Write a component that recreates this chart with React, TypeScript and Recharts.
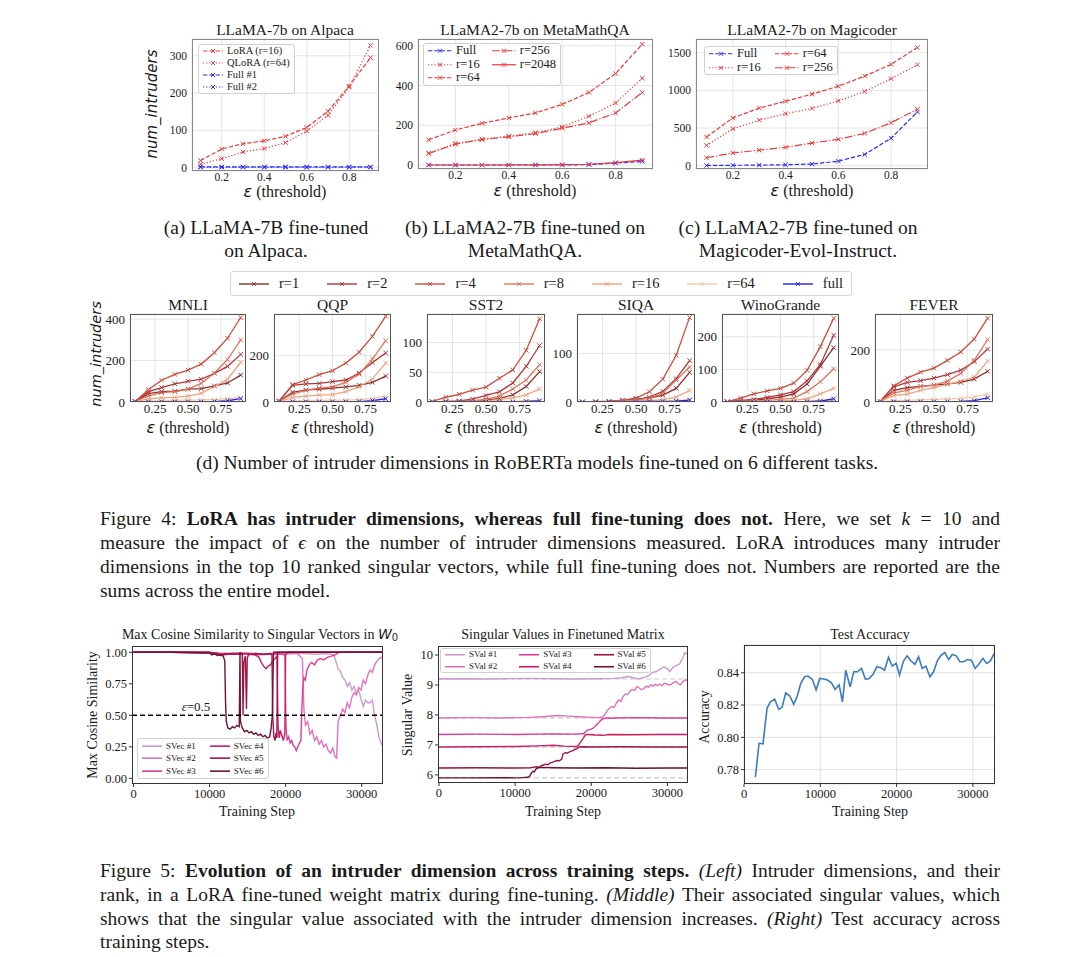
import React from "react";
import {
  CartesianGrid,
  Line,
  LineChart,
  ReferenceLine,
  XAxis,
  YAxis,
} from "recharts";

const SERIF = '"Liberation Serif", "Times New Roman", serif';
const SANS = '"DejaVu Sans", sans-serif';
const INK = "#1a1a1a";

// thresholds used by every num_intruders panel
const EPS = [0.1, 0.2, 0.3, 0.4, 0.5, 0.6, 0.7, 0.8, 0.9];

// (a) LLaMA-7b on Alpaca
const ALPACA_LORA = [19, 50, 64, 72, 84, 108, 151, 219, 295];
const ALPACA_QLORA = [9, 24, 42, 51, 67, 98, 140, 216, 328];
const ALPACA_FULL1 = [2, 2, 2, 2, 2, 2, 2, 2, 2];
const ALPACA_FULL2 = [1, 1, 1, 1, 1, 1, 1, 1, 1];

// (b) LLaMA2-7b on MetaMathQA
const MM_FULL = [0, 0, 0, 0, 0, 0, 2, 10, 18];
const MM_R16 = [60, 108, 130, 145, 163, 192, 245, 312, 437];
const MM_R64 = [127, 176, 210, 237, 262, 305, 365, 460, 608];
const MM_R256 = [58, 105, 128, 142, 158, 185, 212, 262, 365];
const MM_R2048 = [0, 0, 0, 1, 1, 2, 4, 12, 25];

// (c) LLaMA2-7b on Magicoder
const MC_FULL = [3, 5, 8, 12, 22, 60, 150, 365, 715];
const MC_R16 = [270, 490, 605, 690, 760, 860, 985, 1155, 1340];
const MC_R64 = [380, 635, 765, 855, 950, 1055, 1190, 1345, 1570];
const MC_R256 = [105, 170, 205, 245, 300, 350, 430, 570, 750];

// (d) RoBERTa, one row per rank: r=1, r=2, r=4, r=8, r=16, r=64, full
const RANK_LABELS = ["r=1", "r=2", "r=4", "r=8", "r=16", "r=64", "full"];
const RANK_COLORS = ["#8f2f2f", "#b3363a", "#d04b3c", "#e4735c", "#f0a27c", "#f6c6a6", "#2020f0"];

const MNLI = [
  [3, 40, 50, 52, 62, 65, 78, 92, 130],
  [3, 50, 70, 88, 100, 110, 138, 172, 230],
  [3, 60, 105, 133, 154, 183, 238, 308, 408],
  [2, 30, 45, 50, 62, 90, 140, 205, 300],
  [1, 15, 20, 22, 28, 42, 75, 110, 192],
  [0, 4, 6, 8, 9, 10, 12, 16, 22],
  [1, 1, 1, 1, 1, 1, 2, 6, 16],
];
const QQP = [
  [4, 42, 52, 55, 60, 65, 72, 85, 112],
  [5, 72, 78, 80, 88, 95, 125, 170, 212],
  [5, 75, 95, 118, 135, 168, 215, 283, 370],
  [3, 35, 50, 60, 65, 85, 120, 185, 265],
  [2, 20, 25, 30, 32, 45, 65, 100, 168],
  [1, 5, 6, 7, 8, 8, 10, 15, 25],
  [1, 1, 1, 1, 1, 1, 2, 6, 14],
];
const SST2 = [
  [0, 0, 1, 2, 3, 6, 12, 26, 51],
  [0, 1, 2, 5, 11, 17, 32, 60, 95],
  [1, 8, 13, 20, 25, 40, 54, 87, 140],
  [0, 0, 1, 2, 5, 10, 22, 37, 63],
  [0, 0, 0, 1, 2, 4, 7, 12, 22],
  [0, 0, 0, 0, 0, 1, 1, 2, 3],
  [0, 0, 0, 0, 0, 0, 0, 1, 2],
];
const SIQA = [
  [0, 0, 1, 3, 6, 8, 14, 28, 61],
  [0, 0, 1, 3, 5, 10, 22, 48, 85],
  [0, 1, 1, 4, 8, 21, 47, 96, 174],
  [0, 0, 1, 2, 4, 8, 18, 45, 72],
  [0, 0, 0, 1, 1, 3, 5, 10, 24],
  [0, 0, 0, 0, 1, 1, 2, 3, 5],
  [0, 0, 0, 0, 1, 1, 1, 2, 4],
];
const WINOGRANDE = [
  [1, 3, 5, 10, 15, 25, 55, 110, 167],
  [1, 5, 8, 14, 22, 32, 65, 115, 205],
  [1, 12, 25, 34, 42, 58, 97, 170, 257],
  [0, 2, 3, 5, 8, 12, 32, 62, 102],
  [0, 1, 2, 2, 3, 5, 10, 25, 42],
  [0, 0, 1, 1, 1, 1, 2, 3, 6],
  [0, 0, 0, 0, 0, 0, 1, 3, 10],
];
const FEVER = [
  [3, 45, 55, 60, 65, 70, 75, 88, 118],
  [3, 58, 75, 82, 92, 105, 122, 155, 203],
  [3, 62, 92, 115, 130, 160, 192, 242, 322],
  [3, 35, 45, 60, 65, 80, 110, 160, 240],
  [2, 25, 30, 45, 55, 68, 80, 95, 157],
  [1, 5, 6, 8, 10, 12, 14, 20, 30],
  [0, 1, 1, 1, 1, 1, 2, 5, 16],
];

// Figure 5: [training step, value]
const PURD = ["#cc9bcf", "#e272bb", "#e03e94", "#cc1f62", "#a01346", "#701230"];

const SVEC1: [number, number][] = [[0, 1], [3000, 1], [6000, 1], [9000, 1], [10500, 0.995], [12000, 0.99], [13500, 0.995], [15000, 0.99], [16500, 0.985], [18000, 0.99], [19500, 0.985], [21000, 0.99], [22500, 0.99], [24000, 0.985], [25500, 0.99], [26300, 0.98], [26600, 0.93], [26900, 0.87], [27200, 0.85], [27500, 0.8], [27800, 0.78], [28100, 0.73], [28400, 0.76], [28700, 0.7], [29000, 0.73], [29300, 0.68], [29600, 0.7], [29900, 0.63], [30200, 0.57], [30500, 0.62], [30800, 0.6], [31100, 0.6], [31400, 0.62], [31700, 0.5], [32000, 0.42], [32300, 0.32], [32600, 0.27], [32900, 0.26]];
const SVEC2: [number, number][] = [[0, 1], [5000, 1], [10000, 0.995], [12000, 0.99], [14000, 0.995], [16000, 0.99], [18000, 0.985], [20000, 0.99], [21500, 0.99], [22200, 0.95], [22400, 0.55], [22600, 0.42], [22900, 0.45], [23200, 0.35], [23500, 0.38], [23800, 0.3], [24100, 0.33], [24400, 0.27], [24700, 0.3], [25000, 0.25], [25300, 0.27], [25600, 0.22], [25900, 0.2], [26200, 0.24], [26500, 0.17], [26700, 0.16], [26900, 0.45], [27200, 0.5], [27500, 0.55], [27800, 0.52], [28100, 0.6], [28400, 0.56], [28700, 0.64], [29000, 0.68], [29300, 0.66], [29600, 0.72], [29900, 0.7], [30200, 0.78], [30500, 0.75], [30800, 0.82], [31100, 0.86], [31400, 0.84], [31700, 0.9], [32000, 0.93], [32300, 0.95], [32600, 0.96], [32900, 0.97]];
const SVEC3: [number, number][] = [[0, 1], [5000, 1], [10000, 0.995], [12000, 0.985], [14000, 0.99], [16000, 0.98], [18000, 0.985], [19000, 0.99], [19900, 0.98], [20050, 0.4], [20200, 0.3], [20400, 0.33], [20600, 0.28], [20800, 0.3], [21000, 0.26], [21200, 0.25], [21400, 0.22], [21600, 0.25], [21800, 0.28], [22000, 0.3], [22100, 0.5], [22250, 0.72], [22400, 0.8], [22600, 0.78], [22800, 0.86], [23100, 0.9], [23400, 0.92], [23800, 0.9], [24200, 0.94], [24600, 0.95], [25000, 0.94], [25500, 0.96], [26000, 0.97], [26500, 0.98], [27000, 1], [28000, 1], [32900, 1]];
const SVEC4: [number, number][] = [[0, 1], [5000, 1], [10000, 1], [11000, 0.99], [12000, 0.98], [13000, 0.99], [14000, 0.985], [15000, 0.99], [16000, 0.98], [16500, 0.96], [16800, 0.92], [17100, 0.89], [17400, 0.87], [17700, 0.89], [18000, 0.9], [18300, 0.93], [18600, 0.95], [18850, 0.97], [19000, 0.42], [19150, 0.32], [19300, 0.38], [19500, 0.34], [19700, 0.3], [19900, 0.36], [20000, 0.98], [20200, 1], [22000, 1], [26000, 1], [32900, 1]];
const SVEC5: [number, number][] = [[0, 1], [5000, 1], [10000, 1], [10500, 0.985], [11000, 0.99], [11500, 0.975], [12000, 0.99], [13000, 0.985], [14000, 0.99], [14300, 0.99], [14400, 0.5], [14500, 0.92], [14700, 0.97], [14850, 0.55], [14950, 0.95], [15100, 0.98], [16000, 0.99], [17000, 0.985], [18000, 0.99], [18200, 0.98], [18300, 0.5], [18450, 0.33], [18600, 0.3], [18750, 0.36], [18850, 0.32], [18950, 1], [19500, 1], [22000, 1], [26000, 1], [32900, 1]];
const SVEC6: [number, number][] = [[0, 1], [5000, 1], [10000, 0.995], [10300, 0.98], [10600, 0.99], [11000, 0.975], [11400, 0.98], [11800, 0.97], [12000, 0.93], [12100, 0.6], [12200, 0.45], [12400, 0.4], [12700, 0.39], [13000, 0.41], [13300, 0.4], [13600, 0.42], [13900, 0.41], [14000, 1], [14050, 0.46], [14150, 0.43], [14300, 0.4], [14600, 0.37], [14900, 0.38], [15200, 0.36], [15500, 0.37], [15800, 0.35], [16100, 0.36], [16400, 0.34], [16700, 0.35], [17000, 0.33], [17300, 0.34], [17600, 0.32], [17900, 0.33], [18100, 0.4], [18250, 0.5], [18400, 1], [19000, 1], [22000, 1], [26000, 1], [32900, 1]];

const SVAL_BASE = [9.2, 7.9, 7.35, 6.93, 6.23, 5.9];
const SVAL1: [number, number][] = [[0, 9.2], [3000, 9.21], [6000, 9.2], [9000, 9.21], [12000, 9.22], [15000, 9.21], [18000, 9.2], [21000, 9.21], [23000, 9.22], [24000, 9.24], [24800, 9.28], [25500, 9.24], [26200, 9.2], [27000, 9.26], [27500, 9.3], [28000, 9.42], [28500, 9.44], [29000, 9.52], [29500, 9.6], [30000, 9.55], [30300, 9.45], [30700, 9.58], [31200, 9.65], [31600, 9.7], [32000, 9.9], [32300, 10.08], [32600, 10.03], [32900, 9.98]];
const SVAL2: [number, number][] = [[0, 7.9], [4000, 7.91], [8000, 7.9], [12000, 7.92], [14000, 7.95], [15500, 7.98], [17000, 7.96], [18500, 7.94], [20000, 7.92], [21000, 7.91], [21500, 7.93], [21800, 8.02], [22100, 8.15], [22400, 8.22], [22700, 8.28], [23000, 8.25], [23300, 8.4], [23600, 8.5], [23900, 8.45], [24200, 8.62], [24500, 8.7], [24800, 8.68], [25100, 8.8], [25400, 8.85], [25700, 8.82], [26000, 8.95], [26300, 8.9], [26600, 8.84], [26900, 8.88], [27200, 8.96], [27500, 8.92], [27800, 9.0], [28100, 8.96], [28400, 9.02], [28700, 8.98], [29000, 9.03], [29300, 8.98], [29600, 9.06], [29900, 9.04], [30200, 9.0], [30500, 9.02], [30800, 9.08], [31100, 9.12], [31400, 9.04], [31700, 9.0], [32000, 9.1], [32300, 9.17], [32600, 9.15], [32900, 9.18]];
const SVAL3: [number, number][] = [[0, 7.35], [5000, 7.36], [10000, 7.35], [15000, 7.37], [18000, 7.36], [19000, 7.38], [19300, 7.45], [19600, 7.5], [19900, 7.52], [20200, 7.55], [20500, 7.62], [20800, 7.7], [21100, 7.78], [21400, 7.86], [21700, 7.88], [22000, 7.9], [22500, 7.89], [23000, 7.9], [26000, 7.91], [29000, 7.9], [32900, 7.9]];
const SVAL4: [number, number][] = [[0, 6.93], [5000, 6.94], [10000, 6.95], [13000, 6.97], [15000, 6.99], [16500, 6.96], [18000, 6.95], [18300, 6.98], [18600, 7.1], [18900, 7.2], [19200, 7.33], [19500, 7.35], [20500, 7.33], [21500, 7.32], [22500, 7.35], [25000, 7.34], [29000, 7.35], [32900, 7.35]];
const SVAL5: [number, number][] = [[0, 6.23], [5000, 6.24], [10000, 6.23], [12000, 6.24], [12500, 6.26], [12800, 6.27], [13100, 6.25], [13400, 6.3], [13700, 6.33], [14000, 6.36], [14300, 6.34], [14600, 6.4], [14900, 6.42], [15200, 6.45], [15500, 6.48], [15800, 6.47], [16100, 6.52], [16300, 6.7], [16600, 6.74], [16900, 6.73], [17200, 6.78], [17500, 6.8], [17800, 6.84], [18100, 6.88], [18400, 6.93], [19000, 6.94], [20000, 6.93], [24000, 6.94], [28000, 6.93], [32900, 6.93]];
const SVAL6: [number, number][] = [[0, 5.9], [4000, 5.9], [8000, 5.91], [10000, 5.9], [11000, 5.91], [11600, 5.92], [11900, 5.95], [12100, 6.05], [12300, 6.12], [12500, 6.1], [12700, 6.18], [12900, 6.23], [13500, 6.25], [15000, 6.24], [18000, 6.23], [22000, 6.24], [26000, 6.22], [30000, 6.23], [32900, 6.23]];

const ACC_STEPS = [1490, 1970, 2490, 3020, 3460, 4020, 4550, 4990, 5470, 6000, 6520, 6960, 7440, 7960, 8400, 8970, 9450, 9930, 10450, 10940, 11460, 11940, 12470, 12900, 13340, 13910, 14390, 14870, 15400, 15920, 16400, 16930, 17410, 17940, 18420, 18940, 19420, 19950, 20380, 20910, 21390, 21870, 22400, 22880, 23360, 23840, 24370, 24850, 25370, 25850, 26330, 26820, 27300, 27820, 28300, 28780, 29310, 29790, 30310, 30800, 31320, 31800, 32280, 32800];
const ACC_VALS = [0.7753, 0.7963, 0.796, 0.818, 0.822, 0.8237, 0.8173, 0.8186, 0.8276, 0.8256, 0.8204, 0.8252, 0.8334, 0.8375, 0.838, 0.8359, 0.8293, 0.8365, 0.8361, 0.8355, 0.8338, 0.8297, 0.8324, 0.822, 0.8416, 0.8313, 0.8406, 0.8406, 0.8427, 0.8359, 0.8365, 0.839, 0.8437, 0.8431, 0.8416, 0.8495, 0.8441, 0.8458, 0.8386, 0.8472, 0.8505, 0.8474, 0.8452, 0.8499, 0.8427, 0.8441, 0.8375, 0.8406, 0.8478, 0.8509, 0.8526, 0.8482, 0.8513, 0.8505, 0.8468, 0.8468, 0.8482, 0.8478, 0.8427, 0.8454, 0.8489, 0.8458, 0.8472, 0.852];

const RED = "#ee3a3a";
const BLUE = "#2b2bff";
const DASHED = "4.4 1.9";
const DOTTED = "1.2 2";
const DASHDOT = "7.7 1.9 1.2 1.9";

type Series = { name: string; values: number[]; color: string; dash?: string; width?: number };
type LegendItem = { label: string; color: string; dash?: string; marker?: boolean; width?: number };

function crossDot(color: string, r = 2.2) {
  // eslint-disable-next-line @typescript-eslint/no-explicit-any
  return (p: any) => {
    const { cx, cy, index } = p;
    if (cx == null || cy == null || Number.isNaN(cx) || Number.isNaN(cy)) return <g key={`e${index}`} />;
    return (
      <path
        key={`x${index}`}
        d={`M${cx - r} ${cy - r}L${cx + r} ${cy + r}M${cx - r} ${cy + r}L${cx + r} ${cy - r}`}
        stroke={color}
        strokeWidth={1}
        fill="none"
      />
    );
  };
}

function toRows(pairs: [number, number][]) {
  return pairs.map(([step, v]) => ({ step, v }));
}

function Txt({ x, y, size, rotate, children, style }: {
  x: number; y: number; size: number; rotate?: number; children: React.ReactNode; style?: React.CSSProperties;
}) {
  return (
    <div
      style={{
        position: "absolute",
        left: x,
        top: y,
        transform: `translate(-50%, -50%)${rotate ? ` rotate(${rotate}deg)` : ""}`,
        fontSize: size,
        lineHeight: 1,
        whiteSpace: "nowrap",
        ...style,
      }}
    >
      {children}
    </div>
  );
}

function EpsLabel({ x, y, size }: { x: number; y: number; size: number }) {
  return (
    <Txt x={x} y={y} size={size}>
      <span style={{ fontFamily: SANS, fontStyle: "italic" }}>ε</span> (threshold)
    </Txt>
  );
}

function LegendBox({ left, top, items, rows, fontSize, sampleW, rowH, colGap = 10, pad = "2px 5px" }: {
  left: number; top: number; items: LegendItem[]; rows: number; fontSize: number; sampleW: number; rowH: number; colGap?: number; pad?: string;
}) {
  return (
    <div
      style={{
        position: "absolute",
        left,
        top,
        display: "grid",
        gridTemplateRows: `repeat(${rows}, ${rowH}px)`,
        gridAutoFlow: "column",
        columnGap: colGap,
        padding: pad,
        border: "1px solid #d0d0d0",
        borderRadius: 3,
        background: "rgba(255,255,255,0.85)",
        fontFamily: SERIF,
        fontSize,
        lineHeight: `${rowH}px`,
        color: INK,
      }}
    >
      {items.map((it, i) => (
        <div key={i} style={{ display: "flex", alignItems: "center", whiteSpace: "nowrap" }}>
          <svg width={sampleW} height={rowH} style={{ marginRight: 4, flex: "none" }}>
            <line x1={0} y1={rowH / 2} x2={sampleW} y2={rowH / 2} stroke={it.color} strokeWidth={it.width ?? 1.2} strokeDasharray={it.dash} />
            {it.marker && crossDot(it.color, 2)({ cx: sampleW / 2, cy: rowH / 2, index: 0 })}
          </svg>
          <span>{it.label}</span>
        </div>
      ))}
    </div>
  );
}

const MT = 8; // headroom above each plot so the top tick label is not clipped

function EpsPanel({ left, top, width, height, yDomain, yTicks, xTicks, xDigits, series, tickFont, frame, axisW }: {
  left: number; top: number; width: number; height: number; yDomain: [number, number]; yTicks: number[]; xTicks: number[];
  xDigits: number; series: Series[]; tickFont: number; frame: string; axisW: number;
}) {
  const data = EPS.map((e, i) => {
    const row: Record<string, number> = { eps: e };
    series.forEach((s, k) => (row[`s${k}`] = s.values[i]));
    return row;
  });
  const xh = 22;
  const tick = { fontSize: tickFont, fill: INK, fontFamily: SERIF };
  return (
    <div style={{ position: "absolute", left: left - axisW, top: top - MT, width: width + axisW, height: height + xh + MT }}>
      <LineChart width={width + axisW} height={height + xh + MT} data={data} margin={{ top: MT, right: 0, bottom: 0, left: 0 }}>
        <CartesianGrid stroke="#dddddd" strokeWidth={0.8} />
        <XAxis dataKey="eps" type="number" domain={[0.06, 0.94]} ticks={xTicks} tickFormatter={(v: number) => v.toFixed(xDigits)}
          height={xh} axisLine={false} tickLine={false} tickSize={1} tickMargin={1} tick={tick} interval={0} allowDataOverflow />
        <YAxis type="number" domain={yDomain} ticks={yTicks} width={axisW} axisLine={false} tickLine={false}
          tickSize={3} tickMargin={2} tick={tick} interval={0} allowDataOverflow />
        {series.map((s, k) => (
          <Line key={k} dataKey={`s${k}`} name={s.name} stroke={s.color} strokeWidth={s.width ?? 1.2} strokeDasharray={s.dash}
            dot={crossDot(s.color)} activeDot={false} isAnimationActive={false} />
        ))}
      </LineChart>
      <div style={{ position: "absolute", left: axisW, top: MT, width, height, border: `1px solid ${frame}`, boxSizing: "border-box", pointerEvents: "none" }} />
    </div>
  );
}

function StepPanel({ left, top, width, height, xDomain, yDomain, yTicks, yDigits, grid, axisW, children }: {
  left: number; top: number; width: number; height: number; xDomain: [number, number]; yDomain: [number, number];
  yTicks: number[]; yDigits: number; grid?: boolean; axisW: number; children: React.ReactNode;
}) {
  const xh = 22;
  const tick = { fontSize: 12.5, fill: INK, fontFamily: SERIF };
  return (
    <div style={{ position: "absolute", left: left - axisW, top: top - MT, width: width + axisW, height: height + xh + MT }}>
      <LineChart width={width + axisW} height={height + xh + MT} margin={{ top: MT, right: 0, bottom: 0, left: 0 }}>
        {grid && <CartesianGrid stroke="#d8d8d8" strokeWidth={0.8} />}
        <XAxis dataKey="step" type="number" domain={xDomain} ticks={[0, 10000, 20000, 30000]} height={xh} axisLine={false}
          tickLine={{ stroke: "#333" }} tickSize={3} tickMargin={2} tick={tick} interval={0} allowDataOverflow />
        <YAxis type="number" domain={yDomain} ticks={yTicks} tickFormatter={(v: number) => v.toFixed(yDigits)} width={axisW}
          axisLine={false} tickLine={{ stroke: "#333" }} tickSize={3} tickMargin={2} tick={tick} interval={0} allowDataOverflow />
        {children}
      </LineChart>
      <div style={{ position: "absolute", left: axisW, top: MT, width, height, border: "1px solid #333", boxSizing: "border-box", pointerEvents: "none" }} />
    </div>
  );
}

const TASK_PANELS = [
  { title: "MNLI", counts: MNLI, left: 130, width: 116, yMax: 425, yTicks: [0, 200, 400] },
  { title: "QQP", counts: QQP, left: 274, width: 117, yMax: 380, yTicks: [0, 200] },
  { title: "SST2", counts: SST2, left: 427, width: 118, yMax: 148, yTicks: [0, 50, 100] },
  { title: "SIQA", counts: SIQA, left: 577, width: 118, yMax: 181, yTicks: [0, 100] },
  { title: "WinoGrande", counts: WINOGRANDE, left: 722, width: 117, yMax: 270, yTicks: [0, 100, 200] },
  { title: "FEVER", counts: FEVER, left: 875, width: 118, yMax: 338, yTicks: [0, 200] },
];

function Caption({ top, children, last }: { top: number; children: React.ReactNode; last?: boolean }) {
  return (
    <div style={{ position: "absolute", left: 100, top, width: 900, fontSize: 19.5, lineHeight: "24px", textAlign: "justify", textAlignLast: last ? "left" : "justify" }}>
      {children}
    </div>
  );
}

export default function App() {
  const topTitle = 15.5;
  return (
    <div style={{ position: "relative", width: 1080, height: 957, margin: "-8px 0 0 -8px", background: "#fff", overflow: "hidden", fontFamily: SERIF, color: INK }}>
      {/* ---------- top row ---------- */}
      <Txt x={152} y={104} size={15} rotate={-90} style={{ fontFamily: SANS, fontStyle: "italic" }}>num_intruders</Txt>

      <Txt x={285} y={30} size={topTitle}>LLaMA-7b on Alpaca</Txt>
      <EpsPanel left={192} top={39} width={187} height={132} axisW={30} yDomain={[-9, 345]} yTicks={[0, 100, 200, 300]}
        xTicks={[0.2, 0.4, 0.6, 0.8]} xDigits={1} tickFont={11.5} frame="#888"
        series={[
          { name: "LoRA (r=16)", values: ALPACA_LORA, color: RED, dash: DASHED },
          { name: "QLoRA (r=64)", values: ALPACA_QLORA, color: RED, dash: DOTTED },
          { name: "Full #1", values: ALPACA_FULL1, color: BLUE, dash: DASHED },
          { name: "Full #2", values: ALPACA_FULL2, color: BLUE, dash: DOTTED },
        ]} />
      <LegendBox left={198} top={44} rows={4} rowH={12} fontSize={10.5} sampleW={20} pad="0px 4px"
        items={[
          { label: "LoRA (r=16)", color: RED, dash: DASHED, marker: true },
          { label: "QLoRA (r=64)", color: RED, dash: DOTTED, marker: true },
          { label: "Full #1", color: BLUE, dash: DASHED, marker: true },
          { label: "Full #2", color: BLUE, dash: DOTTED, marker: true },
        ]} />
      <EpsLabel x={285} y={192} size={16} />

      <Txt x={535} y={30} size={topTitle}>LLaMA2-7b on MetaMathQA</Txt>
      <EpsPanel left={418} top={39} width={235} height={130} axisW={30} yDomain={[-20, 634]} yTicks={[0, 200, 400, 600]}
        xTicks={[0.2, 0.4, 0.6, 0.8]} xDigits={1} tickFont={11.5} frame="#888"
        series={[
          { name: "Full", values: MM_FULL, color: BLUE, dash: DASHED },
          { name: "r=16", values: MM_R16, color: RED, dash: DOTTED },
          { name: "r=64", values: MM_R64, color: RED, dash: DASHED },
          { name: "r=256", values: MM_R256, color: RED, dash: DASHDOT },
          { name: "r=2048", values: MM_R2048, color: RED },
        ]} />
      <LegendBox left={423} top={43} rows={3} rowH={13.5} fontSize={12.5} sampleW={24} colGap={12} pad="0px 4px"
        items={[
          { label: "Full", color: BLUE, dash: DASHED, marker: true },
          { label: "r=16", color: RED, dash: DOTTED, marker: true },
          { label: "r=64", color: RED, dash: DASHED, marker: true },
          { label: "r=256", color: RED, dash: DASHDOT, marker: true },
          { label: "r=2048", color: RED, marker: true },
        ]} />
      <EpsLabel x={535} y={191} size={16} />

      <Txt x={812} y={30} size={topTitle}>LLaMA2-7b on Magicoder</Txt>
      <EpsPanel left={696} top={39} width={232} height={130} axisW={36} yDomain={[-44, 1682]} yTicks={[0, 500, 1000, 1500]}
        xTicks={[0.2, 0.4, 0.6, 0.8]} xDigits={1} tickFont={11.5} frame="#888"
        series={[
          { name: "Full", values: MC_FULL, color: BLUE, dash: DASHED },
          { name: "r=16", values: MC_R16, color: RED, dash: DOTTED },
          { name: "r=64", values: MC_R64, color: RED, dash: DASHED },
          { name: "r=256", values: MC_R256, color: RED, dash: DASHDOT },
        ]} />
      <LegendBox left={704} top={46} rows={2} rowH={13.5} fontSize={12.5} sampleW={24} colGap={14} pad="0px 4px"
        items={[
          { label: "Full", color: BLUE, dash: DASHED, marker: true },
          { label: "r=16", color: RED, dash: DOTTED, marker: true },
          { label: "r=64", color: RED, dash: DASHED, marker: true },
          { label: "r=256", color: RED, dash: DASHDOT, marker: true },
        ]} />
      <EpsLabel x={812} y={191} size={16} />

      <div style={{ position: "absolute", left: 136, top: 216, width: 260, textAlign: "center", fontSize: 19.5, lineHeight: "23px" }}>
        (a) LLaMA-7B fine-tuned<br />on Alpaca.
      </div>
      <div style={{ position: "absolute", left: 395, top: 216, width: 260, textAlign: "center", fontSize: 19.5, lineHeight: "23px" }}>
        (b) LLaMA2-7B fine-tuned on<br />MetaMathQA.
      </div>
      <div style={{ position: "absolute", left: 668, top: 216, width: 260, textAlign: "center", fontSize: 19.5, lineHeight: "23px" }}>
        (c) LLaMA2-7B fine-tuned on<br />Magicoder-Evol-Instruct.
      </div>

      {/* ---------- RoBERTa row ---------- */}
      <div style={{ position: "absolute", left: 230, top: 271, height: 25, width: 622, boxSizing: "border-box", border: "1px solid #d8d8d8", borderRadius: 3,
        display: "flex", alignItems: "center", justifyContent: "space-between", padding: "0 8px", fontSize: 14.5 }}>
        {RANK_LABELS.map((lab, i) => (
          <div key={lab} style={{ display: "flex", alignItems: "center", whiteSpace: "nowrap" }}>
            <svg width={30} height={12} style={{ marginRight: 10 }}>
              <line x1={0} y1={6} x2={30} y2={6} stroke={RANK_COLORS[i]} strokeWidth={1.4} />
              {crossDot(RANK_COLORS[i], 1.8)({ cx: 15, cy: 6, index: 0 })}
            </svg>
            <span>{lab}</span>
          </div>
        ))}
      </div>

      <Txt x={96} y={354} size={14.5} rotate={-90} style={{ fontFamily: SANS, fontStyle: "italic" }}>num_intruders</Txt>
      {TASK_PANELS.map((t) => (
        <React.Fragment key={t.title}>
          <Txt x={t.left + t.width / 2} y={305} size={15.5}>{t.title}</Txt>
          <EpsPanel left={t.left} top={314} width={t.width} height={88} axisW={34} yDomain={[0, t.yMax]} yTicks={t.yTicks}
            xTicks={[0.25, 0.5, 0.75]} xDigits={2} tickFont={13} frame="#555"
            series={t.counts.map((vals, i) => ({ name: RANK_LABELS[i], values: vals, color: RANK_COLORS[i], width: 1.3 }))} />
          <EpsLabel x={t.left + t.width / 2} y={428} size={16} />
        </React.Fragment>
      ))}

      <Txt x={537} y={463} size={19.5}>(d) Number of intruder dimensions in RoBERTa models fine-tuned on 6 different tasks.</Txt>

      <Caption top={507}>Figure 4: <b>LoRA has intruder dimensions, whereas full fine-tuning does not.</b> Here, we set <i>k</i> = 10 and</Caption>
      <Caption top={531}>measure the impact of <i>ϵ</i> on the number of intruder dimensions measured. LoRA introduces many intruder</Caption>
      <Caption top={555}>dimensions in the top 10 ranked singular vectors, while full fine-tuning does not. Numbers are reported are the</Caption>
      <Caption top={579} last>sums across the entire model.</Caption>

      {/* ---------- Figure 5 ---------- */}
      <Txt x={260} y={635} size={14}>
        Max Cosine Similarity to Singular Vectors in <span style={{ fontFamily: SANS, fontStyle: "italic" }}>W</span>
        <span style={{ fontFamily: SANS, fontSize: 10, verticalAlign: "-2px" }}>0</span>
      </Txt>
      <Txt x={93} y={715} size={14} rotate={-90}>Max Cosine Similarity</Txt>
      <StepPanel left={132} top={646} width={251} height={138} axisW={38} xDomain={[-200, 32800]} yDomain={[-0.045, 1.05]}
        yTicks={[0, 0.25, 0.5, 0.75, 1]} yDigits={2}>
        {[SVEC1, SVEC2, SVEC3, SVEC4, SVEC5, SVEC6].map((s, i) => (
          <Line key={i} data={toRows(s)} dataKey="v" stroke={PURD[i]} strokeWidth={1.4} dot={false} activeDot={false} isAnimationActive={false} />
        ))}
        <ReferenceLine y={0.5} stroke="#000" strokeWidth={1.4} strokeDasharray="5 3" />
      </StepPanel>
      <Txt x={196} y={706} size={13}><span style={{ fontStyle: "italic" }}>ε</span>=0.5</Txt>
      <LegendBox left={137} top={738} rows={3} rowH={12.3} fontSize={9} sampleW={20} colGap={14} pad="1px 4px"
        items={PURD.map((c, i) => ({ label: `SVec #${i + 1}`, color: c, width: 1.6 }))} />
      <Txt x={257} y={812} size={14}>Training Step</Txt>

      <Txt x={563} y={635} size={14}>Singular Values in Finetuned Matrix</Txt>
      <Txt x={408} y={715} size={14} rotate={-90}>Singular Value</Txt>
      <StepPanel left={438} top={646} width={250} height={137} axisW={26} xDomain={[-130, 32700]} yDomain={[5.73, 10.3]}
        yTicks={[6, 7, 8, 9, 10]} yDigits={0}>
        {SVAL_BASE.map((b, i) => (
          <Line key={`b${i}`} data={[{ step: -130, v: b }, { step: 32700, v: b }]} dataKey="v" stroke="#c8c8c8" strokeWidth={1.2}
            strokeDasharray="5 3" dot={false} activeDot={false} isAnimationActive={false} />
        ))}
        {[SVAL1, SVAL2, SVAL3, SVAL4, SVAL5, SVAL6].map((s, i) => (
          <Line key={i} data={toRows(s)} dataKey="v" stroke={PURD[i]} strokeWidth={1.4} dot={false} activeDot={false} isAnimationActive={false} />
        ))}
      </StepPanel>
      <LegendBox left={440} top={648} rows={2} rowH={11.5} fontSize={9} sampleW={20} colGap={22} pad="0px 4px"
        items={PURD.map((c, i) => ({ label: `SVal #${i + 1}`, color: c, width: 1.6 }))} />
      <Txt x={563} y={812} size={14}>Training Step</Txt>

      <Txt x={870} y={635} size={14}>Test Accuracy</Txt>
      <Txt x={705} y={717} size={14} rotate={-90}>Accuracy</Txt>
      <StepPanel left={744} top={645} width={251} height={139} axisW={36} xDomain={[0, 32900]} yDomain={[0.7711, 0.8572]}
        yTicks={[0.78, 0.8, 0.82, 0.84]} yDigits={2} grid>
        <Line data={ACC_STEPS.map((step, i) => ({ step, v: ACC_VALS[i] }))} dataKey="v" stroke="#3d7cbd" strokeWidth={1.6}
          dot={false} activeDot={false} isAnimationActive={false} />
      </StepPanel>
      <Txt x={870} y={812} size={14}>Training Step</Txt>

      <Caption top={859}>Figure 5: <b>Evolution of an intruder dimension across training steps.</b> <i>(Left)</i> Intruder dimensions, and their</Caption>
      <Caption top={883}>rank, in a LoRA fine-tuned weight matrix during fine-tuning. <i>(Middle)</i> Their associated singular values, which</Caption>
      <Caption top={907}>shows that the singular value associated with the intruder dimension increases. <i>(Right)</i> Test accuracy across</Caption>
      <Caption top={930} last>training steps.</Caption>
    </div>
  );
}
